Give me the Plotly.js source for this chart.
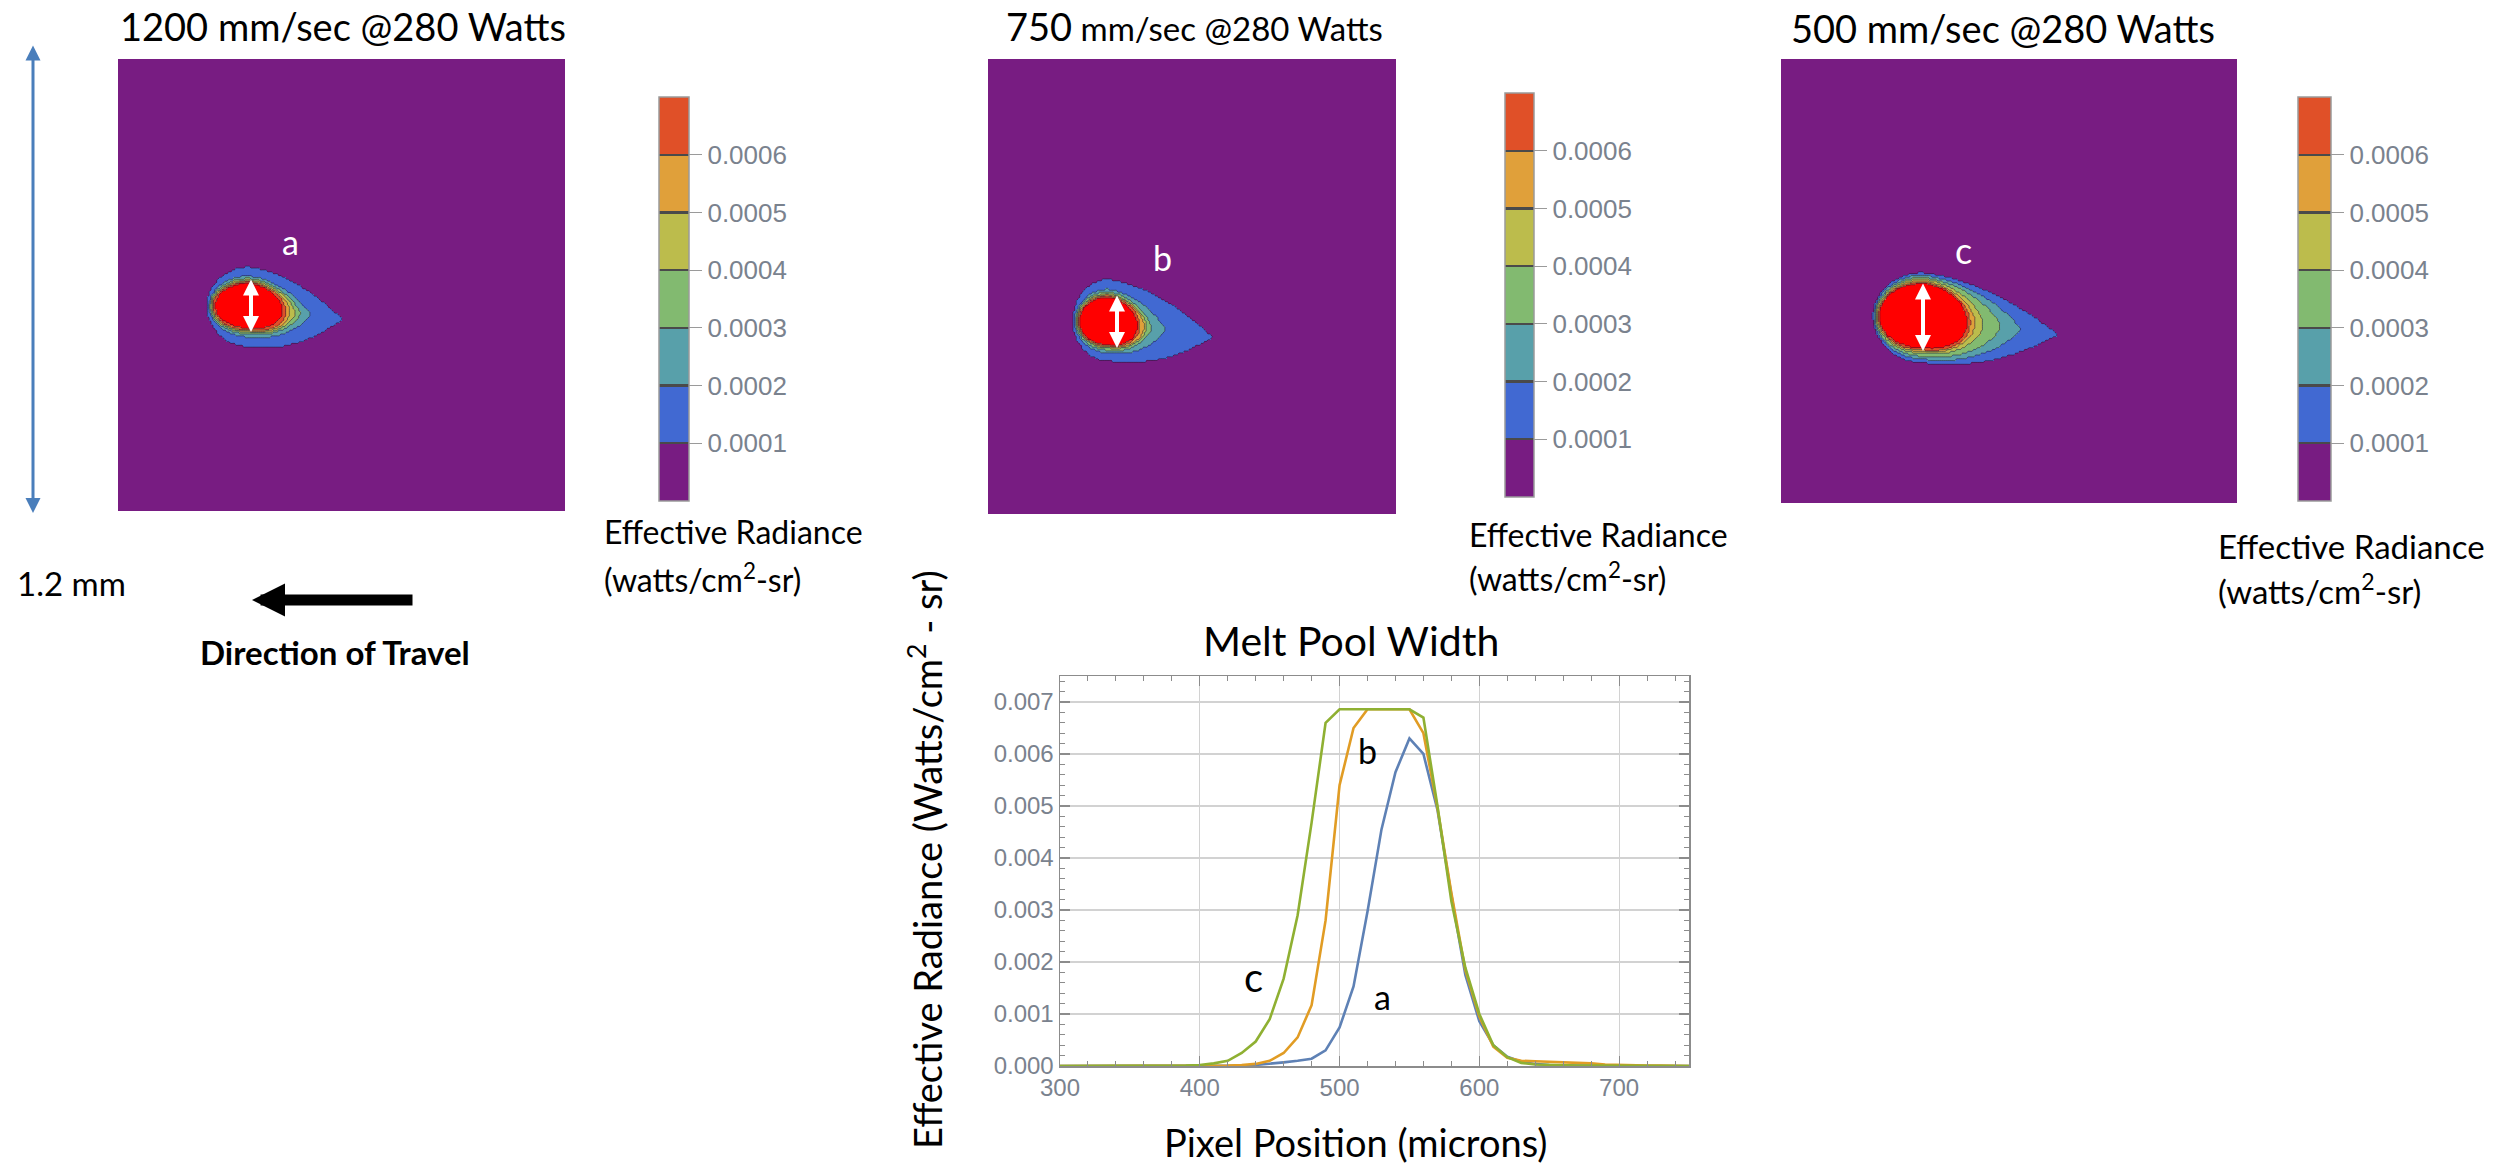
<!DOCTYPE html>
<html>
<head>
<meta charset="utf-8">
<script src="https://cdn.plot.ly/plotly-3.0.1.min.js"></script>
<style>
  html, body { margin: 0; padding: 0; background: #ffffff; overflow: hidden; }
  #chart { width: 2494px; height: 1163px; }
</style>
</head>
<body>
<div id="chart"></div>
<script>
// ---------- Melt pool width profiles (pixel position in microns) ----------
const pixelPosition = [300,310,320,330,340,350,360,370,380,390,400,410,420,430,440,450,460,470,480,490,
  500,510,520,530,540,550,560,570,580,590,600,610,620,630,640,650,660,670,680,690,700,710,720,730,740,750];

// a: 1200 mm/sec
const radiance1200 = [0,0,0,0,0,0,0,0,0,0,0,
  0.000005,0.00001,0.00001,0.00002,0.00004,0.00007,0.0001,0.00014,0.0003,0.00074,0.00153,0.00297,0.00455,
  0.00565,0.0063,0.006,0.00493,0.00329,0.00175,0.00086,0.0004,0.00018,0.00008,0.00004,0.00002,0.00001,
  0.00001,0.00001,0,0,0,0,0,0,0];
// b: 750 mm/sec
const radiance750 = [0,0,0,0,0,0,0,0,0,0,0,
  0.000005,0.00001,0.00002,0.00004,0.0001,0.00025,0.00055,0.00117,0.0028,0.0054,0.0065,0.00686,0.00686,
  0.00686,0.00686,0.0064,0.00497,0.00333,0.00184,0.00095,0.00037,0.00016,0.0001,0.00009,0.00008,0.00008,
  0.00007,0.00005,0.00003,0.00002,0.00001,0.00001,0.00001,0,0];
// c: 500 mm/sec
const radiance500 = [0,0,0,0,0,0,0,0,
  0.00001,0.00001,0.00002,0.00005,0.0001,0.00025,0.00047,0.0009,0.00168,0.0029,0.00468,0.0066,0.00686,
  0.00686,0.00686,0.00686,0.00686,0.00686,0.0067,0.00501,0.00317,0.00189,0.001,0.0004,0.00017,0.00006,
  0.00003,0.00002,0.00002,0.00001,0.00001,0.00001,0,0,0,0,0,0];

// ---------- Radiance maps (1.2 mm field of view) ----------
const radianceLevels = [0.0001,0.0002,0.0003,0.0004,0.0005,0.0006,0.0007];
const colorbarTicks = [0.0001,0.0002,0.0003,0.0004,0.0005,0.0006];
const colorbarTickText = ['0.0001','0.0002','0.0003','0.0004','0.0005','0.0006'];

// Contour extents (mm) around the melt pool centre, one entry per level (0.0001 ... 0.0007+)
const pool1200Center = [0.352, 0.656];
const pool1200Left   = [0.113,0.107,0.105,0.102,0.099,0.097,0.091];
const pool1200Right  = [0.250,0.164,0.137,0.123,0.110,0.099,0.089];
const pool1200Top    = [0.104,0.080,0.074,0.069,0.066,0.064,0.061];
const pool1200Bottom = [0.108,0.082,0.074,0.069,0.066,0.064,0.058];

const pool750Center = [0.354, 0.691];
const pool750Left   = [0.105,0.099,0.096,0.093,0.091,0.088,0.085];
const pool750Right  = [0.306,0.167,0.127,0.113,0.105,0.093,0.085];
const pool750Top    = [0.110,0.084,0.077,0.071,0.069,0.066,0.063];
const pool750Bottom = [0.105,0.084,0.077,0.071,0.069,0.066,0.063];

const pool500Center = [0.374, 0.695];
const pool500Left   = [0.132,0.129,0.126,0.124,0.121,0.118,0.116];
const pool500Right  = [0.355,0.255,0.203,0.158,0.137,0.124,0.116];
const pool500Top    = [0.118,0.111,0.105,0.100,0.095,0.092,0.089];
const pool500Bottom = [0.126,0.116,0.108,0.100,0.095,0.092,0.086];

// trailing-edge sharpness per level (1 = pointed tail, 0.5 = elliptical)
const tailExponent = [1.0, 0.8, 0.7, 0.6, 0.55, 0.5, 0.5];
const tailTilt = 0.14;

// ---------- styling ----------
const W = 2494, H = 1163;
const fx = p => p / W;
const fy = p => 1 - p / H;
const FONT = "Lato, 'Noto Sans', sans-serif";
const TICKFONT = "'Liberation Sans', Arial, sans-serif";
const TICKCOLOR = '#7a828e';

const bandColors = ['#781c82', '#4169d2', '#58a0aa', '#82ba70', '#bcbc4c', '#e0a03a', '#e05028'];
const sepColor = '#4a4a4a';
const coreColor = '#ff0000';

// stepped colorscale with thin separators between bands
function bandScale() {
  const n = bandColors.length, s = 0.003, out = [[0, bandColors[0]]];
  for (let k = 1; k < n; k++) {
    const a = k / n;
    out.push([a - s, bandColors[k - 1]], [a - s, sepColor], [a + s, sepColor], [a + s, bandColors[k]]);
  }
  out.push([1, bandColors[n - 1]]);
  return out;
}

// level index (0..7) at a point of the map
function levelAt(x, y, c, L, R, T, B) {
  let lev = 0;
  for (let k = 0; k < L.length; k++) {
    const dx = x - c[0];
    let dy = y - c[1];
    let inside;
    if (dx < 0) {
      const u = -dx / L[k];
      const v = dy < 0 ? -dy / T[k] : dy / B[k];
      inside = u * u + v * v <= 1;
    } else {
      const u = dx / R[k];
      dy -= tailTilt * dx;
      const v = dy < 0 ? -dy / T[k] : dy / B[k];
      inside = u <= 1 && v <= Math.pow(1 - u * u, tailExponent[k]);
    }
    if (inside) lev = k + 1; else break;
  }
  return lev;
}

const N = 240, STEP = 1.2 / N;
const cellCenters = Array.from({length: N}, (_, i) => (i + 0.5) * STEP);

function mapTraces(c, L, R, T, B, xa, ya, cbX, cbY, cbW) {
  const zBand = [], zCore = [], zLev = [];
  const top = radianceLevels.length;
  for (let j = 0; j < N; j++) {
    const rb = [], rc = [], rl = [];
    for (let i = 0; i < N; i++) {
      const lev = levelAt(cellCenters[i], cellCenters[j], c, L, R, T, B);
      rb.push(lev >= top ? radianceLevels[top - 2] + 0.00005 : (lev === 0 ? 0.00005 : radianceLevels[lev - 1] + 0.00005));
      rc.push(lev >= top ? 1 : null);
      rl.push(lev);
    }
    zBand.push(rb); zCore.push(rc); zLev.push(rl);
  }
  return [
    {
      type: 'heatmap', x: cellCenters, y: cellCenters, z: zBand, xaxis: xa, yaxis: ya,
      zmin: 0, zmax: 0.0007, colorscale: bandScale(), hoverinfo: 'skip', showscale: true,
      colorbar: {
        x: fx(cbX), xanchor: 'left', xpad: 0,
        y: fy(cbY), yanchor: 'middle', ypad: 0,
        len: 404, lenmode: 'pixels', thickness: cbW, thicknessmode: 'pixels',
        outlinewidth: 1.5, outlinecolor: '#9a9a9a', borderwidth: 0,
        tickmode: 'array', tickvals: colorbarTicks, ticktext: colorbarTickText,
        ticks: 'outside', ticklen: 13, tickwidth: 1, tickcolor: '#9a9a9a',
        tickfont: {family: TICKFONT, size: 26, color: TICKCOLOR}
      }
    },
    {
      type: 'heatmap', x: cellCenters, y: cellCenters, z: zCore, xaxis: xa, yaxis: ya,
      zmin: 0, zmax: 1, colorscale: [[0, coreColor], [1, coreColor]], showscale: false, hoverinfo: 'skip'
    },
    {
      type: 'contour', x: cellCenters, y: cellCenters, z: zLev, xaxis: xa, yaxis: ya,
      autocontour: false, contours: {start: 0.5, end: 6.5, size: 1, coloring: 'none'},
      line: {color: 'rgba(35,25,55,0.55)', width: 1, smoothing: 1},
      showscale: false, hoverinfo: 'skip'
    }
  ];
}

const traces = [
  ...mapTraces(pool1200Center, pool1200Left, pool1200Right, pool1200Top, pool1200Bottom, 'x', 'y', 659, 299, 30),
  ...mapTraces(pool750Center, pool750Left, pool750Right, pool750Top, pool750Bottom, 'x2', 'y2', 1505, 295, 29),
  ...mapTraces(pool500Center, pool500Left, pool500Right, pool500Top, pool500Bottom, 'x3', 'y3', 2298, 299, 33),
  {type: 'scatter', mode: 'lines', x: pixelPosition, y: radiance1200, xaxis: 'x4', yaxis: 'y4',
   line: {color: '#5e81b5', width: 2.6}, hoverinfo: 'skip'},
  {type: 'scatter', mode: 'lines', x: pixelPosition, y: radiance750, xaxis: 'x4', yaxis: 'y4',
   line: {color: '#e19c24', width: 2.6}, hoverinfo: 'skip'},
  {type: 'scatter', mode: 'lines', x: pixelPosition, y: radiance500, xaxis: 'x4', yaxis: 'y4',
   line: {color: '#8fb032', width: 2.6}, hoverinfo: 'skip'}
];

const hiddenAxis = (d, range, anchor) => ({domain: d, range: range, visible: false, anchor: anchor, fixedrange: true});
const frameAxis = {
  ticks: 'inside', ticklen: 10, tickwidth: 1.2, tickcolor: '#8c8c8c',
  showline: true, linecolor: '#8c8c8c', linewidth: 1.5, mirror: 'allticks',
  showgrid: true, gridcolor: '#d2d2d2', gridwidth: 1.2, zeroline: false,
  tickfont: {family: TICKFONT, size: 24, color: TICKCOLOR}, fixedrange: true
};

function txt(text, x, y, size, extra) {
  return Object.assign({
    text: text, x: fx(x), y: fy(y), xref: 'paper', yref: 'paper',
    xanchor: 'left', yanchor: 'middle', showarrow: false,
    font: {family: FONT, size: size, color: '#000000'}
  }, extra || {});
}
function arrow(x0, y0, x1, y1, color, width, size, both) {
  return {
    text: '', xref: 'paper', yref: 'paper', axref: 'paper', ayref: 'paper',
    x: fx(x1), y: fy(y1), ax: fx(x0), ay: fy(y0), showarrow: true,
    arrowhead: 2, startarrowhead: 2, arrowside: both ? 'end+start' : 'end',
    arrowsize: size, startarrowsize: size, arrowwidth: width, arrowcolor: color,
    standoff: 0, startstandoff: 0
  };
}

const annotations = [
  txt('1200 mm/sec @280 Watts', 118, 26, 38),
  txt('<span style="font-size:38px">750</span> mm/sec @280 Watts', 1004, 26, 33),
  txt('500 mm/sec @280 Watts', 1789, 28, 38),
  txt('a', 290, 242, 34, {xanchor: 'center', font: {family: FONT, size: 34, color: '#ffffff'}}),
  txt('b', 1162, 258, 34, {xanchor: 'center', font: {family: FONT, size: 34, color: '#ffffff'}}),
  txt('c', 1963, 250, 36, {xanchor: 'center', font: {family: FONT, size: 36, color: '#ffffff'}}),
  arrow(251, 278, 251, 332, '#ffffff', 4, 0.8, true),
  arrow(1117, 294, 1117, 348, '#ffffff', 4, 0.8, true),
  arrow(1923, 282, 1923, 351, '#ffffff', 4, 0.8, true),
  arrow(33, 44, 33, 513, '#4a7ebb', 3, 1.0, true),
  txt('1.2 mm', 15, 583, 33),
  arrow(414, 600, 252, 600, '#000000', 11, 0.6, false),
  txt('<b>Direction of Travel</b>', 335, 652, 33, {xanchor: 'center'}),
  txt('Effective Radiance', 602, 531, 32),
  txt('(watts/cm<sup>2</sup>-sr)', 602, 578, 32),
  txt('Effective Radiance', 1467, 534, 32),
  txt('(watts/cm<sup>2</sup>-sr)', 1467, 577, 32),
  txt('Effective Radiance', 2216, 546, 33),
  txt('(watts/cm<sup>2</sup>-sr)', 2216, 589, 33),
  txt('Melt Pool Width', 1351, 640, 41, {xanchor: 'center'}),
  txt('Pixel Position (microns)', 1355, 1142, 38, {xanchor: 'center'}),
  txt('Effective Radiance (Watts/cm<sup>2</sup> - sr)', 925, 860, 38, {xanchor: 'center', textangle: -90}),
  {text: 'b', x: 519.8, y: 0.00606, xref: 'x4', yref: 'y4', showarrow: false,
   font: {family: FONT, size: 34, color: '#000000'}},
  {text: 'c', x: 438.6, y: 0.00172, xref: 'x4', yref: 'y4', showarrow: false,
   font: {family: FONT, size: 40, color: '#000000'}},
  {text: 'a', x: 530.6, y: 0.00134, xref: 'x4', yref: 'y4', showarrow: false,
   font: {family: FONT, size: 34, color: '#000000'}},
  txt('<b>11</b>', 2465, 1156, 24, {xanchor: 'center', yanchor: 'top',
   font: {family: TICKFONT, size: 24, color: '#8b1a1a'}})
];

const layout = {
  width: W, height: H,
  margin: {l: 0, r: 0, t: 0, b: 0},
  paper_bgcolor: '#ffffff', plot_bgcolor: 'rgba(0,0,0,0)',
  showlegend: false,
  xaxis:  hiddenAxis([fx(118), fx(565)], [0, 1.2], 'y'),
  yaxis:  hiddenAxis([fy(511), fy(59)], [1.2, 0], 'x'),
  xaxis2: hiddenAxis([fx(988), fx(1396)], [0, 1.2], 'y2'),
  yaxis2: hiddenAxis([fy(514), fy(59)], [1.2, 0], 'x2'),
  xaxis3: hiddenAxis([fx(1781), fx(2237)], [0, 1.2], 'y3'),
  yaxis3: hiddenAxis([fy(503), fy(59)], [1.2, 0], 'x3'),
  xaxis4: Object.assign({}, frameAxis, {
    domain: [fx(1060), fx(1689)], anchor: 'y4', range: [300, 750],
    tickmode: 'linear', tick0: 300, dtick: 100,
    minor: {tick0: 300, dtick: 20, ticks: 'inside', ticklen: 5, tickcolor: '#8c8c8c', tickwidth: 1, showgrid: false}
  }),
  yaxis4: Object.assign({}, frameAxis, {
    domain: [fy(1066), fy(676)], anchor: 'x4', range: [0, 0.0075],
    tickmode: 'linear', tick0: 0, dtick: 0.001, tickformat: '.3f',
    minor: {tick0: 0, dtick: 0.0002, ticks: 'inside', ticklen: 5, tickcolor: '#8c8c8c', tickwidth: 1, showgrid: false}
  }),
  annotations: annotations
};

Plotly.newPlot('chart', traces, layout, {staticPlot: true, displayModeBar: false});
</script>
</body>
</html>
